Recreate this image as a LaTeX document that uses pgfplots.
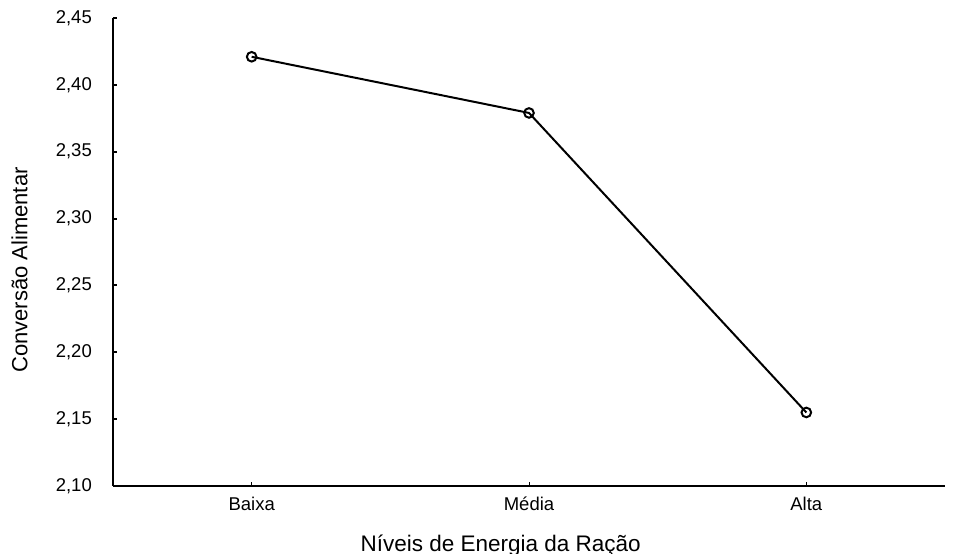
\documentclass[border=0pt]{standalone}
\usepackage{pgfplots}
\pgfplotsset{compat=1.18}
\usepackage{fontspec}
\setmainfont{Liberation Sans}
\begin{document}
\begin{tikzpicture}
\path[use as bounding box] (-113bp,-68bp) rectangle (845bp,486bp);
\begin{axis}[
  scale only axis,
  width=832bp, height=468bp,
  xmin=-0.5, xmax=2.5,
  ymin=2.10, ymax=2.45,
  axis x line=bottom, axis y line=left,
  axis line style={-, line width=2bp, black},
  xtick={0,1,2},
  xticklabels={Baixa,Média,Alta},
  ytick={2.10,2.15,2.20,2.25,2.30,2.35,2.40,2.45},
  tick align=inside,
  major tick length=4bp,
  x tick style={line width=1bp, black},
  y tick style={line width=2bp, black},
  /pgf/number format/assume math mode=true,
  yticklabel style={/pgf/number format/.cd, use comma, fixed, fixed zerofill, precision=2, /tikz/.cd,
    anchor=east, inner sep=0pt, xshift=-21bp, font=\fontsize{18.5bp}{21bp}\selectfont},
  xticklabel style={anchor=base, yshift=-24bp, font=\fontsize{18.5bp}{21bp}\selectfont},
  xlabel={Níveis de Energia da Ração},
  ylabel={Conversão Alimentar},
  xlabel style={at={(axis description cs:0.466,-0.139)}, anchor=base, font=\fontsize{22.5bp}{26bp}\selectfont},
  ylabel style={at={(axis description cs:-0.1028,0.4615)}, anchor=base, rotate=0, font=\fontsize{22bp}{26bp}\selectfont},
  clip=false,
]
\addplot[black, line width=2bp, mark=o, mark size=4.8bp, mark options={fill=white, line width=2bp}]
  coordinates {(0,2.421) (1,2.379) (2,2.155)};
\end{axis}
\end{tikzpicture}
\end{document}
